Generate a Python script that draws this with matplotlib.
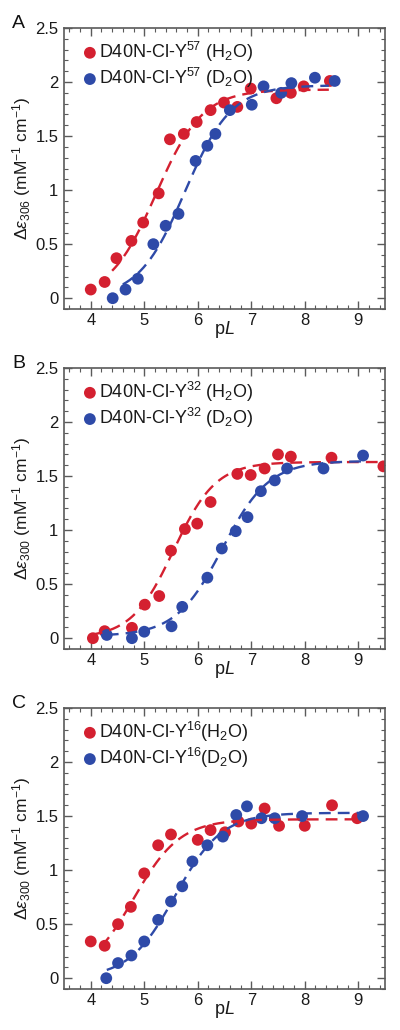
import numpy as np
import matplotlib
matplotlib.use("Agg")
import matplotlib.pyplot as plt
from matplotlib.ticker import MultipleLocator, FixedLocator

plt.rcParams['font.family'] = ['Liberation Sans', 'DejaVu Sans']
plt.rcParams['mathtext.fontset'] = 'custom'
plt.rcParams['mathtext.rm'] = 'Liberation Sans'
plt.rcParams['mathtext.it'] = 'Liberation Sans:italic'
plt.rcParams['mathtext.bf'] = 'Liberation Sans:bold'

RED = '#d42030'
BLUE = '#2e4aa8'

# ---- Panel A data ----
a_h2o_x = [4.00, 4.26, 4.48, 4.76, 4.98, 5.27, 5.48, 5.74, 5.98, 6.24, 6.49, 6.74, 6.99, 7.47, 7.74, 7.98, 8.47]
a_h2o_y = [0.08, 0.15, 0.37, 0.53, 0.70, 0.97, 1.47, 1.52, 1.63, 1.74, 1.81, 1.77, 1.94, 1.85, 1.90, 1.96, 2.01]
a_d2o_x = [4.41, 4.65, 4.88, 5.17, 5.40, 5.64, 5.96, 6.18, 6.33, 6.60, 7.01, 7.23, 7.56, 7.75, 8.19, 8.56]
a_d2o_y = [0.00, 0.08, 0.18, 0.50, 0.67, 0.78, 1.27, 1.41, 1.52, 1.74, 1.79, 1.96, 1.90, 1.99, 2.04, 2.01]

# ---- Panel B data ----
b_h2o_x = [4.04, 4.26, 4.77, 5.01, 5.28, 5.50, 5.76, 5.99, 6.24, 6.74, 6.99, 7.25, 7.50, 7.74, 8.50, 9.47]
b_h2o_y = [0.00, 0.065, 0.096, 0.31, 0.39, 0.81, 1.01, 1.06, 1.26, 1.52, 1.51, 1.57, 1.70, 1.68, 1.67, 1.59]
b_d2o_x = [4.30, 4.77, 5.00, 5.51, 5.71, 6.18, 6.45, 6.71, 6.93, 7.18, 7.44, 7.67, 8.35, 9.09]
b_d2o_y = [0.03, 0.00, 0.06, 0.11, 0.29, 0.56, 0.83, 0.99, 1.12, 1.36, 1.46, 1.57, 1.57, 1.69]

# ---- Panel C data ----
c_h2o_x = [4.00, 4.26, 4.51, 4.75, 5.00, 5.26, 5.50, 6.00, 6.24, 6.51, 6.76, 7.00, 7.25, 7.52, 8.00, 8.51, 8.98]
c_h2o_y = [0.34, 0.30, 0.50, 0.66, 0.97, 1.23, 1.33, 1.28, 1.37, 1.35, 1.45, 1.43, 1.57, 1.41, 1.41, 1.60, 1.48]
c_d2o_x = [4.29, 4.51, 4.76, 5.00, 5.26, 5.50, 5.71, 5.90, 6.18, 6.47, 6.72, 6.92, 7.19, 7.44, 7.95, 9.09]
c_d2o_y = [0.00, 0.14, 0.21, 0.34, 0.54, 0.71, 0.85, 1.08, 1.23, 1.31, 1.51, 1.59, 1.48, 1.48, 1.50, 1.50]

# ---- Fit parameters (pKa, amplitude, Hill n, baseline, x-start, x-end) ----
a_h2o_fit = (5.22, 1.93, 1.0, 0.0, 4.40, 8.45)
a_d2o_fit = (5.76, 1.97, 1.0, 0.0, 4.60, 8.45)
b_h2o_fit = (5.55, 1.63, 1.1, 0.0, 4.00, 9.45)
b_d2o_fit = (6.46, 1.62, 1.0, 0.02, 4.30, 9.10)
c_h2o_fit = (4.80, 1.47, 1.0, 0.0, 4.20, 8.95)
c_d2o_fit = (5.58, 1.53, 1.0, 0.0, 4.30, 9.10)

x_ticks = [4, 5, 6, 7, 8, 9]
y_ticks = [0, 0.5, 1, 1.5, 2, 2.5]
y_ticklabels = ['0', '0.5', '1', '1.5', '2', '2.5']

panels = [
    ('A', '306', r'D40N-Cl-Y$^{57}$ (H$_2$O)', r'D40N-Cl-Y$^{57}$ (D$_2$O)',
     a_h2o_x, a_h2o_y, a_d2o_x, a_d2o_y, a_h2o_fit, a_d2o_fit),
    ('B', '300', r'D40N-Cl-Y$^{32}$ (H$_2$O)', r'D40N-Cl-Y$^{32}$ (D$_2$O)',
     b_h2o_x, b_h2o_y, b_d2o_x, b_d2o_y, b_h2o_fit, b_d2o_fit),
    ('C', '300', r'D40N-Cl-Y$^{16}$(H$_2$O)', r'D40N-Cl-Y$^{16}$(D$_2$O)',
     c_h2o_x, c_h2o_y, c_d2o_x, c_d2o_y, c_h2o_fit, c_d2o_fit),
]


def hh(x, p):
    pk, amp, n, base = p[:4]
    return base + amp / (1.0 + 10 ** (n * (pk - x)))


W, H = 400, 1030
fig = plt.figure(figsize=(W / 100, H / 100), dpi=100)

tops = [28, 368, 708]
ax_h = 281
left, right = 64, 385
TXT = '#1a1a1a'
FRAME = '#5a5a5a'

for (letter, wl, lab1, lab2, hx, hy, dx, dy, hfit, dfit), top in zip(panels, tops):
    ax = fig.add_axes([left / W, 1 - (top + ax_h) / H, (right - left) / W, ax_h / H])
    ax.set_xlim(3.5, 9.5)
    ax.set_ylim(-0.1, 2.5)

    for fit, col in ((hfit, RED), (dfit, BLUE)):
        xs = np.linspace(fit[4], fit[5], 300)
        ax.plot(xs, hh(xs, fit), color=col, lw=1.7, ls=(0, (5, 3)), zorder=3)

    ax.scatter(hx, hy, s=72, color=RED, edgecolors='none', zorder=2, label=lab1)
    ax.scatter(dx, dy, s=72, color=BLUE, edgecolors='none', zorder=2, label=lab2)

    ax.xaxis.set_major_locator(FixedLocator(x_ticks))
    ax.xaxis.set_minor_locator(MultipleLocator(0.2))
    ax.yaxis.set_major_locator(FixedLocator(y_ticks))
    ax.set_yticklabels(y_ticklabels)
    ax.yaxis.set_minor_locator(MultipleLocator(0.1))
    ax.tick_params(which='both', direction='in', top=True, right=True,
                   color=FRAME, labelsize=12, labelcolor=TXT)
    ax.tick_params(which='major', length=6, width=1.0)
    ax.tick_params(axis='x', which='major', pad=3)
    ax.tick_params(axis='y', which='major', pad=4)
    ax.tick_params(which='minor', length=3, width=0.8)
    for s in ax.spines.values():
        s.set_color(FRAME)
        s.set_linewidth(1.2)

    ax.set_xlabel(r'p$\mathit{L}$', fontsize=13, color=TXT, va='top')
    ax.xaxis.set_label_coords(0.5, -0.036)
    ax.set_ylabel(r'$\Delta\mathit{\epsilon}_{%s}$ (mM$^{-1}$ cm$^{-1}$)' % wl,
                  fontsize=12.5, color=TXT)
    ax.yaxis.set_label_coords(-0.097, 0.5)

    leg = ax.legend(loc='upper left', bbox_to_anchor=(0.03, 0.985), frameon=False,
                    fontsize=13, handletextpad=0.0, labelspacing=0.12,
                    borderaxespad=0, handlelength=1.0, scatterpoints=1)
    for t in leg.get_texts():
        t.set_color(TXT)

    fig.text(12 / W, 1 - (top - 0.5) / H, letter, fontsize=14, ha='left', va='baseline',
             color='#111111')

fig.savefig('out.png', dpi=100)
